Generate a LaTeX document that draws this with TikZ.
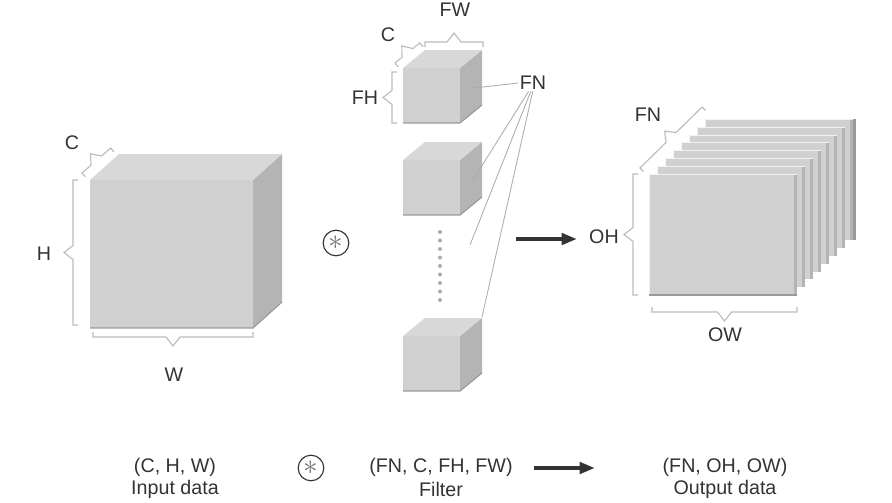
\documentclass[tikz,border=0pt]{standalone}
\usepackage{fontspec}
\setmainfont{Liberation Sans}
\usetikzlibrary{arrows.meta}

\definecolor{facegray}{HTML}{D0D0D0}
\definecolor{topgray}{HTML}{D8D8D8}
\definecolor{sidegray}{HTML}{B4B4B4}
\definecolor{edgegray}{HTML}{999999}
\definecolor{bracegray}{HTML}{BBBBBB}
\definecolor{linegray}{HTML}{ABABAB}
\definecolor{textgray}{HTML}{333333}

\tikzset{
  lbl/.style={text=textgray, inner sep=1pt, font=\fontsize{14}{16}\selectfont},
  bracestyle/.style={draw=bracegray, line width=0.8pt, line join=miter},
  fnline/.style={draw=linegray, line width=0.6pt},
  convop/.style={circle, draw=textgray, line width=0.8pt, minimum size=0.64cm, inner sep=0pt, text=black!55, font=\fontsize{21}{21}\selectfont},
  bigarrow/.style={draw=textgray, line width=2.8pt, -{Triangle[length=11pt,width=8pt]}},
}

% front top-left x, y, width, height, depth dx, depth dy
\newcommand{\drawcube}[6]{%
  \fill[facegray] (#1,#2) rectangle ++(#3,#4);
  \fill[sidegray] ({#1+#3},#2) -- ++(#5,-#6) -- ++(0,#4) -- ++(-#5,#6) -- cycle;
  \fill[topgray] (#1,#2) -- ++(#5,-#6) -- ++(#3,0) -- ++(-#5,#6) -- cycle;
  \draw[edgegray, line width=0.8pt] (#1,{#2+#4}) -- ++(#3,0) -- ++(#5,-#6);
}

% start x, y, angle, length
\newcommand{\sqbrace}[4]{%
  \draw[bracestyle, shift={(#1,#2)}, rotate=#3] (0,5) -- (0,0) -- ({#4/2-7},0) -- ({#4/2},-9) -- ({#4/2+7},0) -- (#4,0) -- (#4,5);
}

\begin{document}
\begin{tikzpicture}[x=0.025cm, y=-0.025cm]
\useasboundingbox (0,0) rectangle (892,502);

% input data
\drawcube{90}{180}{163}{148}{29}{26}
\sqbrace{82}{173}{41}{38}
\sqbrace{73}{325}{90}{145}
\sqbrace{253}{337}{180}{160}
\node[lbl] (cin) at (72,143) {C};
\node[lbl] (hin) at (44,254) {H};
\node[lbl] (win) at (174,375) {W};

\node[convop] (conv) at (336,243) {$\ast$};

% filters
\drawcube{403}{68}{57}{55}{22}{18}
\drawcube{403}{160}{57}{55}{22}{18}
\drawcube{403}{336}{57}{55}{22}{18}
\foreach \k in {0,...,8}
  \fill[linegray] (440,{232+8.5*\k}) circle (2);
\sqbrace{395}{63}{39}{32}
\sqbrace{425}{42}{0}{58}
\sqbrace{392}{123}{90}{51}
\node[lbl] (cfil) at (388,35) {C};
\node[lbl] (fw) at (455,10) {FW};
\node[lbl] (fh) at (365,98) {FH};
\node[lbl] (fn) at (533,83) {FN};
\coordinate (fil1) at (474,88);
\coordinate (fil2) at (473,180);
\coordinate (dotend) at (470,245);
\coordinate (fil3) at (482,317);
\draw[fnline] (fn.west) -- (fil1);
\draw[fnline] (fn.-118) -- (fil2);
\draw[fnline] (fn.-105) -- (dotend);
\draw[fnline] (fn.-92) -- (fil3);

\coordinate (a1) at (516,239);
\coordinate (a2) at (577,239);
\draw[bigarrow] (a1) -- (a2);

% output data
\foreach \i in {7,6,...,0} {
  \fill[facegray] ({649+8*\i},{174-7.8*\i}) rectangle ++(148,121);
  \fill[sidegray] ({794+8*\i},{174-7.8*\i}) rectangle ++(3,121);
  \draw[white!90!gray, line width=0.5pt] ({649+8*\i},{295-7.8*\i}) |- ++(148,-121);
}
\fill[edgegray] (853,{174-7.8*7}) rectangle ++(3,121);
\draw[edgegray, line width=0.8pt] (649,295) -- (797,295);
\sqbrace{640}{168}{44.5}{87}
\sqbrace{633}{295}{90}{121}
\sqbrace{797}{312}{180}{145}
\node[lbl] (fnout) at (648,115) {FN};
\node[lbl] (oh) at (604,237) {OH};
\node[lbl] (ow) at (725,335) {OW};

% shapes in words
\node[lbl] (inshape) at (175,467) {(C, H, W)};
\node[lbl] (inname) at (175,489) {Input data};
\node[convop] (conv2) at (311,468) {$\ast$};
\node[lbl] (filshape) at (441,467) {(FN, C, FH, FW)};
\node[lbl] (filname) at (441,489) {Filter};
\coordinate (a3) at (534,468);
\coordinate (a4) at (595,468);
\draw[bigarrow] (a3) -- (a4);
\node[lbl] (outshape) at (725,467) {(FN, OH, OW)};
\node[lbl] (outname) at (725,489) {Output data};
\end{tikzpicture}
\end{document}
